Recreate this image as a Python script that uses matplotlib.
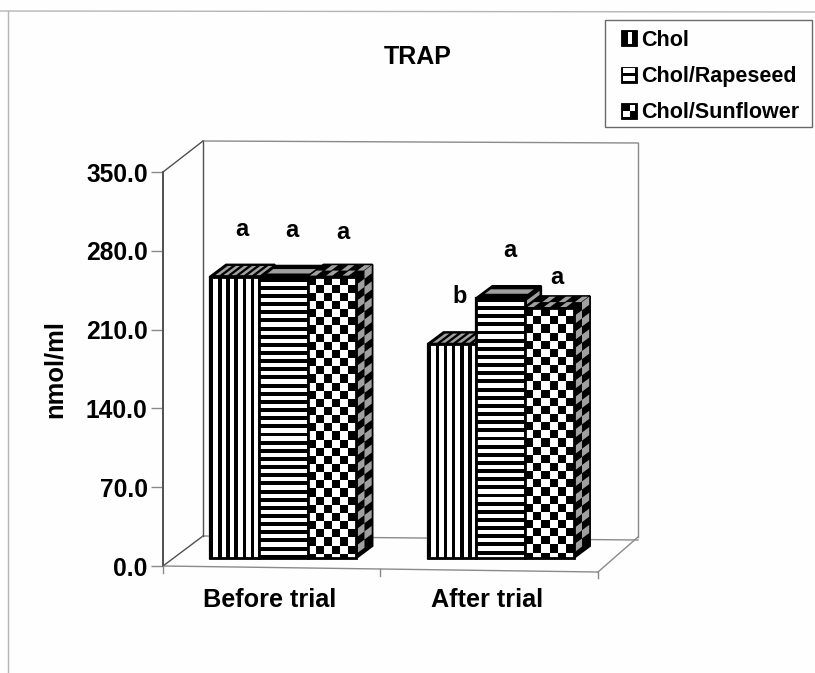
import matplotlib
matplotlib.use("Agg")
import matplotlib.pyplot as plt
import numpy as np
from matplotlib.collections import PolyCollection
from matplotlib.legend_handler import HandlerBase
from matplotlib.patches import Patch, Rectangle, Polygon
from matplotlib.transforms import Affine2D

plt.rcParams['font.family'] = ['Liberation Sans', 'DejaVu Sans']
plt.rcParams['font.weight'] = 'bold'

categories = ["Before trial", "After trial"]
series_names = ["Chol", "Chol/Rapeseed", "Chol/Sunflower"]
chol = [250, 190]
rapeseed = [249, 231]
sunflower = [250, 222]
letters_chol = ["a", "b"]
letters_rapeseed = ["a", "a"]
letters_sunflower = ["a", "a"]
y_ticks = [0, 70, 140, 210, 280, 350]

W, H = 815, 673
GREY = "#a0a0a0"
FRAME = "#8a8a8a"
DARK = "#505050"
fig = plt.figure(figsize=(W / 100, H / 100), dpi=100, facecolor="#fefefe")

ax = fig.add_axes([163 / W, 1 - 566 / H, 435 / W, 394 / H], facecolor="none")
ax.set_xlim(-0.5, 1.5)
ax.set_ylim(0, 350)
for s in ("top", "right", "bottom"):
    ax.spines[s].set_visible(False)
ax.spines["left"].set_color(DARK)
ax.spines["left"].set_linewidth(1.4)
ax.set_yticks(y_ticks)
ax.set_yticklabels([f"{v:.1f}" for v in y_ticks], fontsize=17.7, fontweight="bold")
ax.set_xticks([0, 1])
ax.set_xticklabels(categories, fontsize=18.2, fontweight="bold")
ax.tick_params(axis="y", length=9, width=1, color=FRAME, pad=2)
ax.tick_params(axis="x", length=0, pad=16)
for lab in ax.get_xticklabels():
    lab.set_transform(lab.get_transform() + Affine2D().translate(-2, 0))
ax.set_ylabel("nmol/ml", fontsize=18.4, fontweight="bold", labelpad=14, y=0.5)

# overlay in pixel units for the pseudo-3D chart frame and bar faces
px = fig.add_axes([0, 0, 1, 1], facecolor="none")
px.set_xlim(0, W)
px.set_ylim(H, 0)
px.axis("off")

frame_lines = [
    ((163, 566), (598, 572), FRAME), ((163, 566), (203, 536), DARK), ((598, 572), (638, 537), FRAME),
    ((203, 536), (638, 540), FRAME), ((203, 141), (203, 536), DARK), ((638, 143), (638, 537), FRAME),
    ((203, 141), (638, 143), FRAME), ((163, 172), (203, 141), DARK),
    ((380, 569), (380, 576), FRAME), ((598, 572), (598, 578), FRAME), ((163, 566), (163, 573), FRAME),
]
for a, b, c in frame_lines:
    px.plot([a[0], b[0]], [a[1], b[1]], color=c, lw=1.0, zorder=1)
# scanned page border
px.plot([0, W], [11, 12], color="#b5b5b5", lw=1.0, zorder=1)
px.plot([8, 8], [11, H], color="#b5b5b5", lw=1.0, zorder=1)

bar_w = 0.2245
shift_front = (11.5, 8)       # bar front plane relative to the axis plane, px
depth = (16, -12)             # bar depth, px
offset_tf = ax.transData + Affine2D().translate(shift_front[0], shift_front[1])


def add_polys(polys, color, z):
    if polys:
        px.add_collection(PolyCollection(polys, facecolors=color, edgecolors="none", zorder=z))


def quad_fn(o, ux, vx):
    o, ux, vx = np.array(o, float), np.array(ux, float), np.array(vx, float)
    return lambda a0, a1, b0, b1: [o + ux * a0 + vx * b0, o + ux * a1 + vx * b0,
                                   o + ux * a1 + vx * b1, o + ux * a0 + vx * b1]


def front_face(o, ux, vx, kind, z):
    Q = quad_fn(o, ux, vx)
    lu, lv = abs(ux[0]), abs(vx[1])
    px.add_patch(Polygon(Q(0, 1, 0, 1), fc="white", ec="none", zorder=z))
    period = 8.15
    polys = []
    if kind == "v":
        nu = int(np.ceil(lu / period))
        for i in range(nu):
            polys.append(Q(i * period / lu, min((i + .42) * period / lu, 1), 0, 1))
    elif kind == "h":
        nv = int(np.ceil(lv / period))
        for j in range(nv):
            polys.append(Q(0, 1, j * period / lv, min((j + .48) * period / lv, 1)))
    else:
        pu = lu / 6.0
        nv = int(np.ceil(lv / period))
        for i in range(6):
            for j in range(nv):
                if (i + j) % 2 == 0:
                    polys.append(Q(i / 6, (i + 1) / 6, j * period / lv, min((j + 1) * period / lv, 1)))
    add_polys(polys, "black", z)
    px.add_patch(Polygon(Q(0, 1, 0, 1), fc="none", ec="black", lw=2.0, joinstyle="miter", zorder=z + .2))


def top_face(o, ux, vx, kind, z):
    Q = quad_fn(o, ux, vx)
    px.add_patch(Polygon(Q(0, 1, 0, 1), fc="black", ec="black", lw=1.4, zorder=z))
    if kind == "v":
        add_polys([Q((i + .42) / 6, (i + .95) / 6, .12, .88) for i in range(6)], GREY, z + .1)
    elif kind == "h":
        add_polys([Q(.06, .94, .35, .72)], GREY, z + .1)
    else:
        polys = [Q(i / 6 + .02, (i + 1) / 6 - .02, .5 if i % 2 else .08, .95 if i % 2 else .5) for i in range(6)]
        add_polys(polys, GREY, z + .1)


def side_face(o, ux, vx, kind, z):
    Q = quad_fn(o, ux, vx)
    px.add_patch(Polygon(Q(0, 1, 0, 1), fc="black", ec="black", lw=1.4, zorder=z))
    lv = np.hypot(*vx)
    rows = lv / 8.15
    polys = []
    if kind == "c":
        for j in range(int(rows)):
            a = (.05, .5) if j % 2 else (.5, .95)
            polys.append(Q(a[0], a[1], j / rows, (j + 1) / rows))
        add_polys(polys, GREY, z + .1)
    elif kind == "h":
        for j in range(int(rows)):
            polys.append(Q(.1, .9, (j + .45) / rows, (j + .95) / rows))
        add_polys(polys, GREY, z + .1)


series = [(chol, "v"), (rapeseed, "h"), (sunflower, "c")]
for k, (vals, kind) in enumerate(series):
    bars = ax.bar(np.arange(len(categories)) + (k - 1) * bar_w, vals, bar_w,
                  color="white", edgecolor="black", linewidth=1.6, transform=offset_tf,
                  zorder=3, clip_on=False)
    for bar in bars:
        ext = bar.get_window_extent()
        x0, x1 = ext.x0, ext.x1
        ytop, ybot = H - ext.y1, H - ext.y0
        w, h = x1 - x0, ybot - ytop
        z = 10 + k * 2
        side_face((x1, ytop), depth, (0, h), kind, z)
        top_face((x0, ytop), (w, 0), depth, kind, z)
        front_face((x0, ytop), (w, 0), (0, h), kind, z + 1)

# significance letters, above each bar
letters = [letters_chol, letters_rapeseed, letters_sunflower]
lift = [[41, 41], [41, 41], [38, 24]]
for k, (vals, _) in enumerate(series):
    for i, v in enumerate(vals):
        xd, yd = offset_tf.transform((i + (k - 1) * bar_w, v))
        px.text(xd + ([7, 9, 11][k] if i == 0 else [8, 9, 7][k]), H - yd - lift[k][i],
                letters[k][i], fontsize=17, fontweight="bold", ha="center", va="baseline", zorder=30)

px.text(418, 64, "TRAP", fontsize=18, fontweight="bold", ha="center", va="baseline", zorder=30)


class IconHandler(HandlerBase):
    def create_artists(self, legend, orig, xd, yd, w, h, fs, trans):
        kind = orig.get_label_kind
        s = 11.5
        y = -yd + (h - s) / 2
        arts = [Rectangle((0, y), s, s, fc="black", ec="black", lw=0.6, transform=trans)]
        if kind == "v":
            arts.append(Rectangle((5, y + 1.5), 2.7, s - 3, fc="white", ec="none", transform=trans))
        elif kind == "h":
            arts.append(Rectangle((1.1, y + 1.3), s - 2.2, 3.1, fc="white", ec="none", transform=trans))
            arts.append(Rectangle((1.1, y + s - 4.4), s - 2.2, 3.1, fc="white", ec="none", transform=trans))
        else:
            arts.append(Rectangle((1.1, y + 1.1), 5.4, 5, fc="white", ec="none", transform=trans))
            arts.append(Rectangle((6.5, y + 6.1), 3.9, 3.9, fc="white", ec="none", transform=trans))
        return arts


px.add_patch(Rectangle((605, 20), 207, 107, fc="#fefefe", ec="#6a6a6a", lw=1.0, zorder=35))
handles = []
for name, (_, kind) in zip(series_names, series):
    p = Patch(label=name)
    p.get_label_kind = kind
    handles.append(p)
leg = px.legend(handles=handles, labels=series_names, loc="upper left",
                bbox_to_anchor=(621 / W, 1 - 29.5 / H), bbox_transform=fig.transFigure,
                borderaxespad=0, fontsize=15.5,
                handler_map={Patch: IconHandler()}, handlelength=0.85, handleheight=0.8,
                handletextpad=0.08, labelspacing=0.72, borderpad=0, frameon=False)
leg.set_zorder(40)

fig.savefig("out.png", dpi=100, facecolor=fig.get_facecolor())
